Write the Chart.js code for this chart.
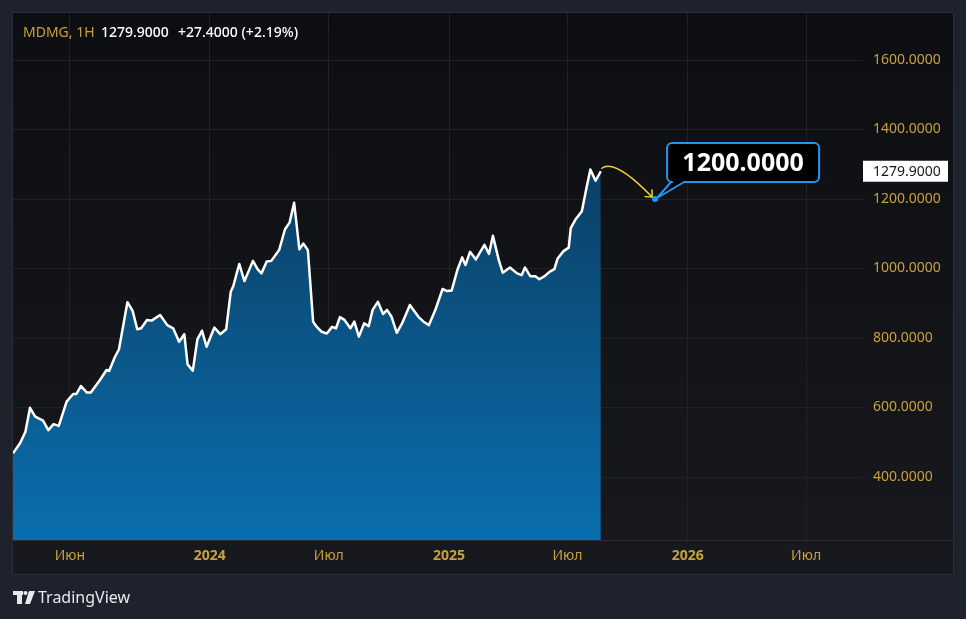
<!DOCTYPE html>
<html><head><meta charset="utf-8">
<script src="https://cdn.jsdelivr.net/npm/chart.js@4.4.1/dist/chart.umd.min.js"></script>
<style>html,body{margin:0;padding:0;background:#1e222d;overflow:hidden}</style>
</head><body><canvas id="c" width="966" height="619"></canvas>
<script>
// ---- data ----
const symbol = 'MDMG', interval = '1H';
const lastPrice = 1279.9, change = 27.4, changePct = 2.19;
const dates = ['2023-03-06','2023-03-17','2023-03-25','2023-04-01','2023-04-09','2023-04-21','2023-04-29','2023-05-07','2023-05-15','2023-05-27',
'2023-06-06','2023-06-11','2023-06-18','2023-06-27','2023-07-03','2023-07-17','2023-07-27','2023-07-31','2023-08-09','2023-08-15',
'2023-08-28','2023-09-05','2023-09-12','2023-09-18','2023-09-27','2023-10-04','2023-10-17','2023-10-28','2023-11-06','2023-11-15',
'2023-11-23','2023-11-28','2023-12-06','2023-12-13','2023-12-20','2023-12-27','2024-01-08','2024-01-17','2024-01-26','2024-02-02',
'2024-02-06','2024-02-15','2024-02-23','2024-03-07','2024-03-14','2024-03-20','2024-03-28','2024-04-04','2024-04-16','2024-04-25',
'2024-05-02','2024-05-09','2024-05-17','2024-05-23','2024-05-30','2024-06-07','2024-06-13','2024-06-20','2024-06-28','2024-07-06',
'2024-07-12','2024-07-18','2024-07-25','2024-08-03','2024-08-09','2024-08-16','2024-08-24','2024-08-31','2024-09-06','2024-09-14',
'2024-09-22','2024-09-28','2024-10-05','2024-10-13','2024-10-21','2024-11-02','2024-11-15','2024-11-23','2024-12-01','2024-12-11',
'2024-12-22','2024-12-29','2025-01-05','2025-01-14','2025-01-21','2025-01-26','2025-02-02','2025-02-11','2025-02-24','2025-03-03',
'2025-03-09','2025-03-18','2025-03-24','2025-04-04','2025-04-15','2025-04-22','2025-04-27','2025-05-05','2025-05-13','2025-05-19',
'2025-05-27','2025-06-04','2025-06-11','2025-06-16','2025-06-25','2025-07-03','2025-07-06','2025-07-13','2025-07-23','2025-07-30',
'2025-08-05','2025-08-13','2025-08-21'];
const prices = [468,498,530,599,574,562,535,552,547,617,
639,639,662,643,643,679,708,705,746,767,
903,878,825,828,852,850,866,837,828,789,
811,724,706,796,821,775,830,811,825,933,
950,1013,964,1022,998,986,1020,1022,1053,1113,
1132,1189,1055,1072,1053,847,831,818,813,832,
828,860,852,828,847,804,842,834,881,904,
869,881,861,815,842,895,861,847,837,881,
941,935,937,998,1032,1010,1048,1026,1068,1042,
1094,1024,988,1003,986,981,1003,978,978,969,
978,991,998,1029,1050,1060,1116,1140,1165,1231,
1285,1252.5,1279.9];
const targetDate = '2025-11-12', targetPrice = 1200;
const yTicks = [400,600,800,1000,1200,1400,1600];
const xTickDates = ['2023-06-01','2024-01-01','2024-07-01','2025-01-01','2025-07-01','2026-01-01','2026-07-01'];
const xTickLabels = ['Июн','2024','Июл','2025','Июл','2026','Июл'];
const xRange = ['2023-03-06','2026-09-26'];
const yRange = [218.7, 1735.3];

// ---- helpers ----
const day = s => Date.parse(s) / 86400000;
const GOLD = '#c9a03e';
const FONT = '"Noto Sans", "DejaVu Sans", sans-serif';

const bgPlugin = {
  id: 'bg',
  beforeDraw(chart) {
    const c = chart.ctx, W = chart.width, H = chart.height;
    c.save();
    c.fillStyle = '#1e222d'; c.fillRect(0, 0, W, H);
    const g = c.createLinearGradient(0, 13, 0, 574);
    g.addColorStop(0, '#0d0e11'); g.addColorStop(1, '#17191e');
    c.fillStyle = g; c.fillRect(13, 13, 940, 561);
    c.strokeStyle = '#2a2e39'; c.lineWidth = 1;
    c.strokeRect(12.5, 12.5, 941, 562);
    c.restore();
  }
};

const overlayPlugin = {
  id: 'overlay',
  afterDraw(chart) {
    const c = chart.ctx, xs = chart.scales.x, ys = chart.scales.y, ca = chart.chartArea;
    c.save();
    // axis line
    c.strokeStyle = '#2a2e39'; c.lineWidth = 1;
    c.beginPath(); c.moveTo(13, ca.bottom + 0.5); c.lineTo(953, ca.bottom + 0.5); c.stroke();

    const n = dates.length;
    const lx = xs.getPixelForValue(day(dates[n-1])), ly = ys.getPixelForValue(prices[n-1]);
    const tx = xs.getPixelForValue(day(targetDate)), ty = ys.getPixelForValue(targetPrice);

    // yellow curved arrow
    const sx = lx + 1, sy = ly - 3, cx = lx + 14, cy = ly - 13, ex = tx - 3, ey = ty - 2;
    c.strokeStyle = '#f2d33b'; c.lineWidth = 1.5; c.lineCap = 'round';
    c.beginPath(); c.moveTo(sx, sy); c.quadraticCurveTo(cx, cy, ex, ey); c.stroke();
    const ang = Math.atan2(ey - cy, ex - cx), wl = 7;
    c.beginPath();
    c.moveTo(ex + Math.cos(ang + Math.PI - 0.75) * wl, ey + Math.sin(ang + Math.PI - 0.75) * wl);
    c.lineTo(ex, ey);
    c.lineTo(ex + Math.cos(ang + Math.PI + 0.75) * wl, ey + Math.sin(ang + Math.PI + 0.75) * wl);
    c.stroke();

    // callout
    const L = tx + 12, T = ty - 56, R = L + 152, B = ty - 17, r = 5;
    c.beginPath();
    c.moveTo(L + r, T); c.lineTo(R - r, T); c.arcTo(R, T, R, T + r, r);
    c.lineTo(R, B - r); c.arcTo(R, B, R - r, B, r);
    c.lineTo(L + 17, B); c.lineTo(tx + 2, ty - 1); c.lineTo(L + 4, B);
    c.arcTo(L, B, L, B - r, r);
    c.lineTo(L, T + r); c.arcTo(L, T, L + r, T, r);
    c.closePath();
    c.fillStyle = '#000000'; c.fill();
    c.strokeStyle = '#2196f3'; c.lineWidth = 2; c.lineJoin = 'round'; c.stroke();
    c.fillStyle = '#ffffff'; c.font = 'bold 25px ' + FONT;
    c.textAlign = 'center'; c.textBaseline = 'middle';
    c.fillText(targetPrice.toFixed(4), (L + R) / 2, (T + B) / 2 + 1);

    // target dot
    c.fillStyle = '#2196f3';
    c.beginPath(); c.arc(tx, ty, 3, 0, Math.PI * 2); c.fill();

    // last price tag
    c.fillStyle = '#ffffff';
    c.fillRect(ca.right, ly - 10.5, 85, 21);
    c.fillStyle = '#131722'; c.font = '14px ' + FONT; c.textAlign = 'left';
    c.fillText(lastPrice.toFixed(4), ca.right + 10, ly + 0.5);

    // header
    c.font = '14px ' + FONT; c.textAlign = 'left'; c.textBaseline = 'middle';
    c.fillStyle = GOLD; c.fillText(symbol + ', ' + interval, 23, 33);
    c.fillStyle = '#ffffff'; c.font = '500 14px ' + FONT;
    c.fillText(lastPrice.toFixed(4), 101, 33);
    c.fillText('+' + change.toFixed(4) + ' (+' + changePct.toFixed(2) + '%)', 178, 33);

    // logo
    c.fillStyle = '#e6e8ee';
    c.fillRect(13, 591, 10, 4); c.fillRect(17, 591, 5, 13);
    c.beginPath(); c.arc(25.5, 593, 2, 0, Math.PI * 2); c.fill();
    c.beginPath(); c.moveTo(29, 591); c.lineTo(35, 591); c.lineTo(30, 604); c.lineTo(25, 604); c.closePath(); c.fill();
    c.font = '16px ' + FONT; c.textBaseline = 'middle';
    c.fillText('TradingView', 38, 598);
    c.restore();
  }
};

new Chart(document.getElementById('c'), {
  type: 'line',
  data: {
    datasets: [{
      data: dates.map((d, i) => ({ x: day(d), y: prices[i] })),
      borderColor: '#ffffff', borderWidth: 2.5, pointRadius: 0, tension: 0,
      borderJoinStyle: 'round', fill: 'start',
      backgroundColor: (ctx) => {
        const ca = ctx.chart.chartArea;
        if (!ca) return 'rgba(10,110,174,0.8)';
        const g = ctx.chart.ctx.createLinearGradient(0, ca.top, 0, ca.bottom);
        g.addColorStop(0, '#0c2c46'); g.addColorStop(1, '#0a6eae');
        return g;
      }
    }]
  },
  options: {
    responsive: false, animation: false, devicePixelRatio: 1,
    layout: { padding: { left: 13, top: 13, right: 13, bottom: 45 } },
    plugins: { legend: { display: false }, tooltip: { enabled: false } },
    scales: {
      x: {
        type: 'linear', min: day(xRange[0]), max: day(xRange[1]),
        afterBuildTicks: s => { s.ticks = xTickDates.map(d => ({ value: day(d) })); },
        afterFit: s => { s.height = 34; s.paddingLeft = 0; s.paddingRight = 0; },
        ticks: {
          autoSkip: false, maxRotation: 0, padding: 8, color: GOLD,
          callback: (v, i) => xTickLabels[i],
          font: (ctx) => ({ family: FONT, size: 14, weight: /^\d{4}$/.test(xTickLabels[ctx.index] || '') ? 'bold' : 'normal' })
        },
        grid: { color: '#1f2228', drawTicks: false },
        border: { display: false }
      },
      y: {
        position: 'right', min: yRange[0], max: yRange[1],
        afterBuildTicks: s => { s.ticks = yTicks.map(v => ({ value: v })); },
        afterFit: s => { s.width = 90; s.paddingTop = 0; s.paddingBottom = 0; },
        ticks: { padding: 10, color: GOLD, font: { family: FONT, size: 14 }, callback: v => Number(v).toFixed(4) },
        grid: { color: '#1f2228', drawTicks: false },
        border: { display: false }
      }
    }
  },
  plugins: [bgPlugin, overlayPlugin]
});
</script></body></html>
